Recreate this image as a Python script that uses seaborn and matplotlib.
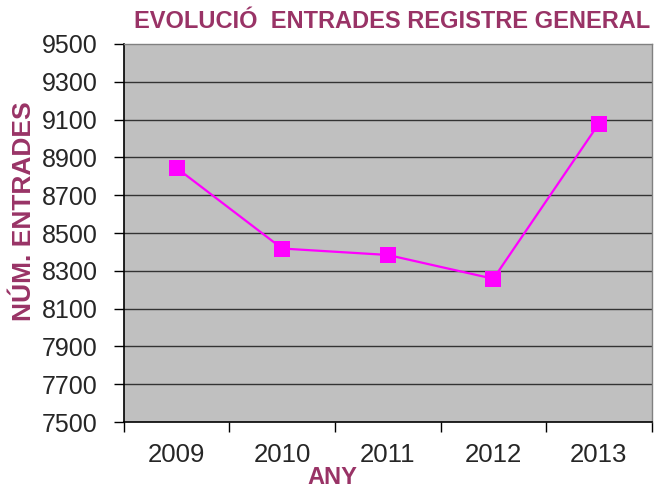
import numpy as np
import pandas as pd
import matplotlib; matplotlib.use("Agg")
import matplotlib.pyplot as plt
from matplotlib.ticker import FixedLocator, NullFormatter
import seaborn as sns

years = ["2009", "2010", "2011", "2012", "2013"]
entrades = [8844, 8418, 8384, 8258, 9079]
yticks = list(range(7500, 9501, 200))

PURPLE = "#993366"
sns.set_theme(style="white")
plt.rcParams["font.family"] = ["Liberation Sans", "DejaVu Sans"]

df = pd.DataFrame({"any": years, "entrades": entrades})

fig = plt.figure(figsize=(6.55, 4.88), dpi=100)
ax = fig.add_axes([0.189, 0.135, 0.806, 0.775])
ax.set_facecolor("#C0C0C0")

sns.lineplot(data=df, x="any", y="entrades", ax=ax, color="#FF00FF", lw=1.6,
             marker="s", markersize=11, markeredgewidth=0, zorder=3)

ax.set_ylim(7500, 9500)
ax.set_yticks(yticks)
ax.set_yticklabels([str(t) for t in yticks], fontsize=18)
for t in yticks[1:-1]:
    ax.axhline(t, color="#333333", lw=1, zorder=1)

ax.set_xlim(-0.5, 4.5)
ax.xaxis.set_major_locator(FixedLocator(np.arange(-0.5, 5, 1)))
ax.xaxis.set_major_formatter(NullFormatter())
ax.xaxis.set_minor_locator(FixedLocator(range(len(years))))
ax.set_xticklabels(years, minor=True, fontsize=18.5)
ax.tick_params(axis="x", which="major", length=7, width=1, color="black", direction="out", bottom=True)
ax.tick_params(axis="x", which="minor", length=0, pad=15)
ax.tick_params(axis="y", length=7, width=1, color="black", direction="out", left=True, pad=12)

for s in ["left", "bottom"]:
    ax.spines[s].set_color("black"); ax.spines[s].set_linewidth(1.2)
for s in ["top", "right"]:
    ax.spines[s].set_color("#808080"); ax.spines[s].set_linewidth(1)

ax.set_xlabel("ANY", fontsize=17, fontweight="bold", color=PURPLE)
ax.set_ylabel("NÚM. ENTRADES", fontsize=19, fontweight="bold", color=PURPLE)
ax.xaxis.set_label_coords(0.396, -0.116)
ax.yaxis.set_label_coords(-0.166, 0.558)
fig.text(0.599, 0.955, "EVOLUCIÓ  ENTRADES REGISTRE GENERAL", ha="center", va="center",
         fontsize=17, fontweight="bold", color=PURPLE)

plt.savefig("out.png", dpi=100)
plt.close()
